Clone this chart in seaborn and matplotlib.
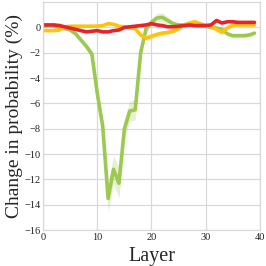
import numpy as np
import pandas as pd
import seaborn as sns
import matplotlib
matplotlib.use("Agg")
import matplotlib.pyplot as plt

layers = list(range(40))

green = [0.1, 0.15, 0.1, 0.0, -0.1, -0.2, -0.5, -1.0, -1.5, -2.1,
         -5.2, -7.8, -13.5, -11.2, -12.3, -8.0, -6.6, -6.5, -2.0, -0.1,
         0.4, 0.75, 0.8, 0.55, 0.3, 0.2, 0.2, 0.2, 0.15, 0.1,
         0.1, 0.0, -0.05, -0.15, -0.5, -0.65, -0.65, -0.65, -0.6, -0.45]
green_err = [0.1, 0.1, 0.1, 0.1, 0.1, 0.1, 0.15, 0.2, 0.25, 0.3,
             0.4, 0.5, 1.1, 1.1, 1.2, 0.8, 0.8, 0.8, 0.4, 0.3,
             0.3, 0.35, 0.35, 0.3, 0.2, 0.15, 0.15, 0.15, 0.1, 0.1,
             0.1, 0.1, 0.1, 0.1, 0.15, 0.15, 0.15, 0.15, 0.15, 0.15]

yellow = [-0.25, -0.25, -0.25, -0.2, 0.05, 0.1, 0.1, 0.1, 0.1, 0.1,
          0.1, 0.15, 0.3, 0.25, 0.1, 0.05, 0.0, -0.1, -0.6, -0.85,
          -0.7, -0.55, -0.45, -0.4, -0.3, -0.1, 0.2, 0.35, 0.45, 0.3,
          0.15, 0.05, -0.15, -0.4, -0.05, 0.2, 0.2, 0.2, 0.2, 0.2]
yellow_err = [0.05] * 17 + [0.1, 0.15, 0.2, 0.2, 0.2, 0.2, 0.15, 0.15, 0.1] + [0.05] * 14

red = [0.2, 0.2, 0.2, 0.15, 0.05, -0.05, -0.15, -0.25, -0.35, -0.3,
       -0.25, -0.35, -0.35, -0.25, -0.2, 0.0, 0.05, 0.1, 0.15, 0.2,
       0.3, 0.2, 0.15, 0.05, 0.05, 0.1, 0.15, 0.2, 0.15, 0.15,
       0.15, 0.2, 0.55, 0.35, 0.45, 0.45, 0.4, 0.4, 0.4, 0.4]
red_err = [0.05] * 40

series = [("green", green, green_err, "#9CC94F"),
          ("yellow", yellow, yellow_err, "#FFC20E"),
          ("red", red, red_err, "#E5232A")]

sns.set_style("whitegrid")
plt.rcParams["font.family"] = ["Liberation Serif", "DejaVu Serif"]

fig = plt.figure(figsize=(2.66, 2.66), dpi=100)
ax = fig.add_axes([0.162, 0.135, 0.815, 0.857])

for name, vals, err, col in series:
    df = pd.DataFrame({"Layer": layers, "val": vals})
    lo = np.array(vals) - np.array(err)
    hi = np.array(vals) + np.array(err)
    ax.fill_between(layers, lo, hi, color=col, alpha=0.25, linewidth=0)
    sns.lineplot(data=df, x="Layer", y="val", color=col, linewidth=2.6, ax=ax)

ax.set_xlim(0, 40)
ax.set_ylim(-16, 2)
ax.set_xticks([0, 10, 20, 30, 40])
ax.set_yticks(list(range(-16, 1, 2)))
ax.grid(True, color="#d9d9d9", linewidth=0.9)
for s in ax.spines.values():
    s.set_color("#d9d9d9")
    s.set_linewidth(0.9)
ax.tick_params(axis="both", length=0, pad=2, labelsize=7.5, colors="#222222")
ax.set_xlabel("Layer", fontsize=14.5, labelpad=4)
ax.set_ylabel("Change in probability (%)", fontsize=14, labelpad=1)

fig.savefig("out.png", dpi=100)
